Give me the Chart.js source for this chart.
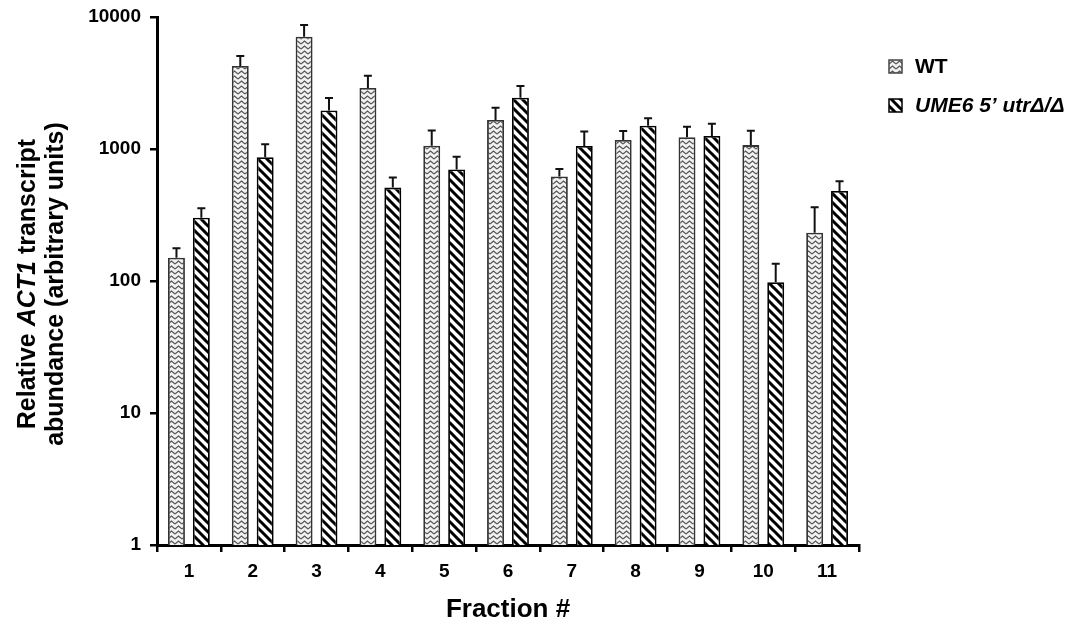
<!DOCTYPE html>
<html>
<head>
<meta charset="utf-8">
<script src="https://cdn.jsdelivr.net/npm/chart.js@4/dist/chart.umd.min.js"></script>
<style>
  html, body { margin: 0; padding: 0; background: #fff; }
  #wrap { width: 1071px; height: 627px; }
</style>
</head>
<body>
<div id="wrap"><canvas id="myChart" width="1071" height="627"></canvas></div>
<script>
// data
const fractions = ["1", "2", "3", "4", "5", "6", "7", "8", "9", "10", "11"];
const wtValues = [150, 4250, 7100, 2900, 1060, 1660, 620, 1170, 1230, 1070, 232];
const wtErrors = [27, 820, 1600, 690, 320, 390, 85, 200, 245, 305, 130];
const utrValues = [302, 865, 1960, 510, 700, 2450, 1055, 1500, 1255, 98, 481];
const utrErrors = [53, 220, 470, 97, 175, 550, 300, 207, 300, 37, 88];
const yTickValues = [1, 10, 100, 1000, 10000];

const FONT = "'Liberation Sans', Arial, sans-serif";

// zigzag fill for WT
function zigzagPattern() {
  const c = document.createElement("canvas");
  c.width = 7;
  c.height = 5;
  const ctx = c.getContext("2d");
  ctx.fillStyle = "#f2f2f2";
  ctx.fillRect(0, 0, 7, 5);
  ctx.strokeStyle = "#555";
  ctx.lineWidth = 1.2;
  ctx.beginPath();
  ctx.moveTo(0, 4);
  ctx.lineTo(3.5, 1);
  ctx.lineTo(7, 4);
  ctx.stroke();
  return ctx.createPattern(c, "repeat");
}

// black diagonal stripes for the utr mutant
function stripePattern() {
  const s = 9;
  const c = document.createElement("canvas");
  c.width = s;
  c.height = s;
  const ctx = c.getContext("2d");
  ctx.fillStyle = "#fff";
  ctx.fillRect(0, 0, s, s);
  ctx.strokeStyle = "#000";
  ctx.lineWidth = 3;
  ctx.beginPath();
  ctx.moveTo(-s, 0); ctx.lineTo(s, 2 * s);
  ctx.moveTo(0, 0); ctx.lineTo(s, s);
  ctx.moveTo(0, -s); ctx.lineTo(2 * s, s);
  ctx.stroke();
  return ctx.createPattern(c, "repeat");
}

const wtFill = zigzagPattern();
const utrFill = stripePattern();

const errorBars = {
  id: "errorBars",
  afterDatasetsDraw(chart) {
    const ctx = chart.ctx;
    const y = chart.scales.y;
    ctx.save();
    ctx.strokeStyle = "#111";
    ctx.lineWidth = 2;
    chart.data.datasets.forEach((ds, i) => {
      const meta = chart.getDatasetMeta(i);
      meta.data.forEach((bar, j) => {
        const top = y.getPixelForValue(ds.data[j] + ds.errors[j]);
        ctx.beginPath();
        ctx.moveTo(bar.x, bar.y);
        ctx.lineTo(bar.x, top);
        ctx.moveTo(bar.x - 4, top);
        ctx.lineTo(bar.x + 4, top);
        ctx.stroke();
      });
    });
    ctx.restore();
  }
};

// draws mixed-style text pieces in one line, centred at x
function drawPieces(ctx, pieces, x, y) {
  let total = 0;
  pieces.forEach(p => { ctx.font = p.font; total += ctx.measureText(p.text).width; });
  let cx = x - total / 2;
  pieces.forEach(p => {
    ctx.font = p.font;
    ctx.fillText(p.text, cx, y);
    cx += ctx.measureText(p.text).width;
  });
}

const extraText = {
  id: "extraText",
  afterDraw(chart) {
    const ctx = chart.ctx;
    const bold = "bold 25px " + FONT;
    const boldIt = "italic bold 25px " + FONT;
    ctx.save();
    ctx.fillStyle = "#000";
    ctx.textBaseline = "middle";
    // y axis title
    ctx.translate(28, 284);
    ctx.rotate(-Math.PI / 2);
    drawPieces(ctx, [
      { text: "Relative ", font: bold },
      { text: "ACT1", font: boldIt },
      { text: " transcript", font: bold }
    ], 0, 0);
    drawPieces(ctx, [{ text: "abundance (arbitrary units)", font: bold }], 0, 28);
    ctx.restore();

    // legend
    ctx.save();
    ctx.textBaseline = "middle";
    ctx.fillStyle = "#000";
    const items = [
      { fill: wtFill, border: "#444", y: 66, text: "WT", font: "bold 21px " + FONT },
      { fill: utrFill, border: "#000", y: 105, text: "UME6 5\u2019 utr\u0394/\u0394", font: "italic bold 21px " + FONT }
    ];
    items.forEach(it => {
      ctx.fillStyle = it.fill;
      ctx.fillRect(889, it.y - 6, 13, 13);
      ctx.strokeStyle = it.border;
      ctx.lineWidth = 1.5;
      ctx.strokeRect(889, it.y - 6, 13, 13);
      ctx.fillStyle = "#000";
      ctx.font = it.font;
      ctx.fillText(it.text, 915, it.y + 1);
    });
    ctx.restore();
  }
};

new Chart("myChart", {
  type: "bar",
  data: {
    labels: fractions,
    datasets: [
      {
        label: "WT",
        data: wtValues,
        errors: wtErrors,
        backgroundColor: wtFill,
        borderColor: "#333",
        borderWidth: 1.8
      },
      {
        label: "UME6 5' utr\u0394/\u0394",
        data: utrValues,
        errors: utrErrors,
        backgroundColor: utrFill,
        borderColor: "#000",
        borderWidth: 1.8
      }
    ]
  },
  options: {
    responsive: false,
    animation: false,
    layout: { padding: { top: 17, right: 212, left: 0, bottom: 0 } },
    categoryPercentage: 0.78,
    barPercentage: 0.68,
    plugins: {
      legend: { display: false },
      title: { display: false },
      tooltip: { enabled: false }
    },
    scales: {
      x: {
        afterFit: (scale) => {
          scale.height = 82;
          scale.paddingLeft = 0;
          scale.paddingRight = 0;
        },
        grid: { drawOnChartArea: false, color: "#000", lineWidth: 2.5, tickLength: 7, offset: true },
        border: { display: true, color: "#000", width: 3 },
        ticks: {
          color: "#000",
          padding: 8,
          font: { family: FONT, size: 19, weight: "bold" }
        },
        title: {
          display: true,
          text: "Fraction #",
          color: "#000",
          padding: { top: 0, bottom: 2 },
          font: { family: FONT, size: 26, weight: "bold" }
        }
      },
      y: {
        type: "logarithmic",
        min: 1,
        max: 10000,
        afterFit: (scale) => {
          scale.width = 157;
          scale.paddingTop = 0;
          scale.paddingBottom = 0;
        },
        afterBuildTicks: (scale) => {
          scale.ticks = yTickValues.map(v => ({ value: v }));
        },
        grid: { drawOnChartArea: false, color: "#000", lineWidth: 2.5, tickLength: 7 },
        border: { display: true, color: "#000", width: 3 },
        ticks: {
          color: "#000",
          padding: 9,
          font: { family: FONT, size: 19, weight: "bold" },
          callback: (v) => String(v)
        }
      }
    }
  },
  plugins: [errorBars, extraText]
});
</script>
</body>
</html>
